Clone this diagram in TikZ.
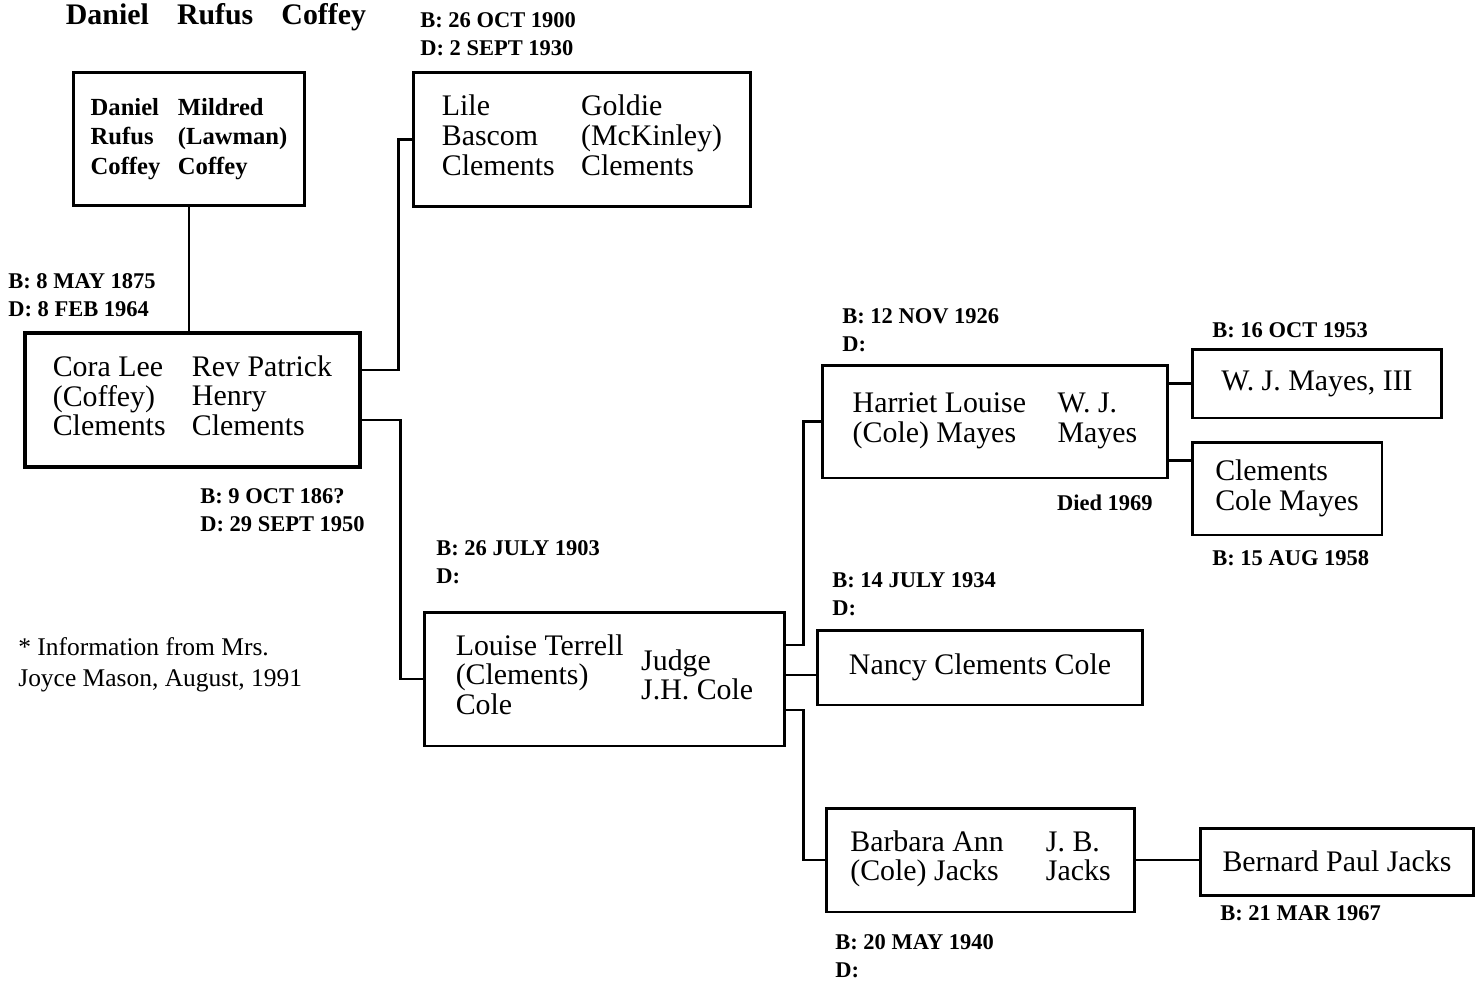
\documentclass[tikz,border=0pt]{standalone}
\usepackage{fontspec}
\setmainfont{Liberation Serif}
\newcommand{\boxfont}{\fontsize{17}{17}\selectfont}
\newcommand{\smallboxfont}{\fontsize{14}{17}\selectfont\bfseries}
\newcommand{\datefont}{\fontsize{12.8}{15.9}\selectfont\bfseries}
\newcommand{\notefont}{\fontsize{14.5}{17.6}\selectfont}
% two partners side by side in one box
\newcommand{\couple}[3][15pt]{\begin{tabular}{@{}l@{\hspace{#1}}l@{}}%
  \begin{tabular}[c]{@{}l@{}}#2\end{tabular} &
  \begin{tabular}[c]{@{}l@{}}#3\end{tabular}\end{tabular}}
\tikzset{
  box/.style={draw, line width=1.7pt, inner sep=0pt, align=left, font=\boxfont},
  bigbox/.style={box, line width=2.8pt},
  date/.style={anchor=north west, inner sep=0pt, align=left, font=\datefont},
  link/.style={line width=1.6pt},
}
\begin{document}
\begin{tikzpicture}[x=0.02cm, y=-0.02cm]
  \useasboundingbox (0,0) rectangle (1481,981);

  \node (title) [anchor=base, inner sep=0pt, font=\fontsize{17}{17}\selectfont\bfseries]
        at (216,24) {Daniel\hspace{16pt}Rufus\hspace{16pt}Coffey};

  % boxes
  \node (coffey)  [box, font=\smallboxfont, minimum width=4.64cm, minimum height=2.68cm] at (189,139)
        {\couple[10pt]{Daniel\\Rufus\\Coffey}{Mildred\\(Lawman)\\Coffey}};
  \node (lile)    [box, minimum width=6.76cm, minimum height=2.70cm] at (582,139.5)
        {\couple[15pt]{Lile\\Bascom\\Clements}{Goldie\\(McKinley)\\Clements}};
  \node (cora)    [bigbox, minimum width=6.70cm, minimum height=2.68cm] at (192.5,400)
        {\couple[15pt]{Cora Lee\\(Coffey)\\Clements}{Rev Patrick\\Henry\\Clements}};
  \node (louise)  [box, minimum width=7.22cm, minimum height=2.68cm] at (604.5,679)
        {\couple[10pt]{Louise Terrell\\(Clements)\\Cole}{Judge\\J.H. Cole}};
  \node (harriet) [box, minimum width=6.92cm, minimum height=2.26cm] at (995,421.5)
        {\couple[18pt]{Harriet Louise\\(Cole) Mayes}{W. J.\\Mayes}};
  \node (wjiii)   [box, minimum width=5.00cm, minimum height=1.38cm] at (1317,383.5) {W. J. Mayes, III};
  \node (cmayes)  [box, minimum width=3.80cm, minimum height=1.86cm] at (1287,488.5) {Clements\\Cole Mayes};
  \node (nancy)   [box, minimum width=6.52cm, minimum height=1.50cm] at (980,667.5) {Nancy Clements Cole};
  \node (barbara) [box, minimum width=6.18cm, minimum height=2.08cm] at (980.5,860)
        {\couple[24pt]{Barbara Ann\\(Cole) Jacks}{J. B.\\Jacks}};
  \node (bernard) [box, minimum width=5.48cm, minimum height=1.34cm] at (1337,861.5) {Bernard Paul Jacks};

  % dates
  \node (dlile)    [date] at (420,12)  {B: 26 OCT 1900\\D: 2 SEPT 1930};
  \node (dcora)    [date] at (8,273)   {B: 8 MAY 1875\\D: 8 FEB 1964};
  \node (drev)     [date] at (200,488) {B: 9 OCT 186?\\D: 29 SEPT 1950};
  \node (dlouise)  [date] at (436,540) {B: 26 JULY 1903\\D:};
  \node (dharriet) [date] at (842,308) {B: 12 NOV 1926\\D:};
  \node (dwj)      [date, anchor=north east] at (1153,495) {Died 1969};
  \node (dwjiii)   [date] at (1212,322) {B: 16 OCT 1953};
  \node (dcmayes)  [date] at (1212,550) {B: 15 AUG 1958};
  \node (dnancy)   [date] at (832,572) {B: 14 JULY 1934\\D:};
  \node (dbarbara) [date] at (835,934) {B: 20 MAY 1940\\D:};
  \node (dbernard) [date] at (1220,905) {B: 21 MAR 1967};

  \node (note) [anchor=north west, inner sep=0pt, align=left, font=\notefont] at (18,637)
        {* Information from Mrs.\\Joyce Mason, August, 1991};

  % lines
  \draw[link] (coffey.south) -- (coffey.south |- cora.north);
  \draw[link] ([yshift=0.6cm]cora.east) -| ([xshift=-0.26cm]lile.west) -- (lile.west);
  \draw[link] ([yshift=-0.4cm]cora.east) -| ([xshift=-0.44cm]louise.west) -- (louise.west);
  \draw[link] ([yshift=0.68cm]louise.east) -| ([xshift=-0.34cm]harriet.west) -- (harriet.west);
  \draw[link] ([yshift=0.08cm]louise.east) -- ([yshift=0.08cm]louise.east -| nancy.west);
  \draw[link] ([yshift=-0.62cm]louise.east) -| ([xshift=-0.42cm]barbara.west) -- (barbara.west);
  \draw[link] (harriet.east |- wjiii.west) -- (wjiii.west);
  \draw[link] ([yshift=-0.78cm]harriet.east) -- ([yshift=-0.78cm]harriet.east -| cmayes.west);
  \draw[link] (barbara.east) -- (barbara.east -| bernard.west);
\end{tikzpicture}
\end{document}
